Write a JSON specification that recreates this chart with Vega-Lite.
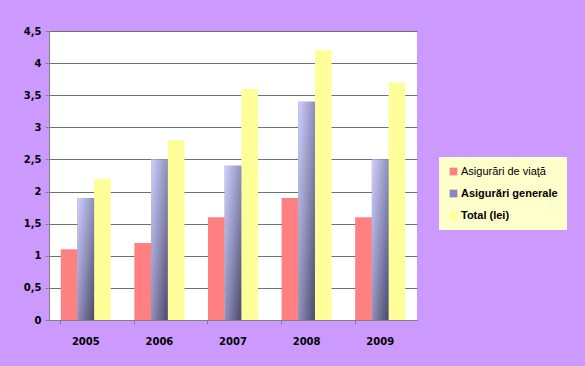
{
  "$schema": "https://vega.github.io/schema/vega-lite/v6.json",
  "width": 368,
  "height": 289,
  "autosize": {"type": "none"},
  "padding": {"left": 49, "top": 31, "right": 168, "bottom": 46},
  "background": "#CC99FF",
  "config": {
    "view": {"fill": "white", "stroke": null},
    "font": "Liberation Sans"
  },
  "data": {
    "values": [
      {"year": "2005", "series": "Asigurări de viaţă", "value": 1.1},
      {"year": "2005", "series": "Asigurări generale", "value": 1.9},
      {"year": "2005", "series": "Total (lei)", "value": 2.2},
      {"year": "2006", "series": "Asigurări de viaţă", "value": 1.2},
      {"year": "2006", "series": "Asigurări generale", "value": 2.5},
      {"year": "2006", "series": "Total (lei)", "value": 2.8},
      {"year": "2007", "series": "Asigurări de viaţă", "value": 1.6},
      {"year": "2007", "series": "Asigurări generale", "value": 2.4},
      {"year": "2007", "series": "Total (lei)", "value": 3.6},
      {"year": "2008", "series": "Asigurări de viaţă", "value": 1.9},
      {"year": "2008", "series": "Asigurări generale", "value": 3.4},
      {"year": "2008", "series": "Total (lei)", "value": 4.2},
      {"year": "2009", "series": "Asigurări de viaţă", "value": 1.6},
      {"year": "2009", "series": "Asigurări generale", "value": 2.5},
      {"year": "2009", "series": "Total (lei)", "value": 3.7}
    ]
  },
  "encoding": {
    "x": {
      "field": "year", "type": "nominal", "title": null,
      "scale": {"paddingInner": 0.32, "paddingOuter": 0.16},
      "axis": {
        "labelAngle": 0, "labelFont": "DejaVu Sans", "labelFontWeight": "bold", "labelFontSize": 10,
        "labelColor": "black", "labelPadding": 12, "bandPosition": 0,
        "domainColor": "#808080", "tickColor": "#808080", "tickSize": 4, "grid": false
      }
    },
    "xOffset": {"field": "series", "type": "nominal", "sort": ["Asigurări de viaţă", "Asigurări generale", "Total (lei)"], "scale": {"paddingInner": 0, "paddingOuter": 0}},
    "y": {
      "field": "value", "type": "quantitative", "title": null,
      "scale": {"domain": [0, 4.5], "nice": false},
      "axis": {
        "values": [0, 0.5, 1, 1.5, 2, 2.5, 3, 3.5, 4, 4.5],
        "labelExpr": "replace(format(datum.value, '.1~f'), '.', ',')",
        "labelFont": "DejaVu Sans", "labelFontWeight": "bold", "labelFontSize": 10, "labelColor": "black",
        "labelPadding": 4, "tickSize": 4, "tickColor": "#808080", "domainColor": "#808080",
        "gridColor": "#6f6f6f", "gridOpacity": 1, "gridWidth": 1
      }
    }
  },
  "layer": [
    {
      "mark": {"type": "bar"},
      "encoding": {
        "color": {
          "field": "series", "type": "nominal",
          "scale": {"domain": ["Asigurări de viaţă", "Asigurări generale", "Total (lei)"], "range": ["#FF8080", "#8888BB", "#FFFF99"]},
          "legend": {
            "title": null, "orient": "none", "legendX": 390, "legendY": 126,
            "fillColor": "#FFFFCC", "padding": 9, "symbolType": "square", "symbolSize": 60,
            "symbolStrokeWidth": 0, "labelFontSize": 11, "labelColor": "black", "rowPadding": 10,
            "labelOffset": 2, "labelLimit": 200,
            "encode": {
              "labels": {"update": {"fontWeight": {"signal": "datum.index === 0 ? 'normal' : 'bold'"}}},
              "legend": {"update": {"width": {"value": 111}}}
            }
          }
        }
      }
    },
    {
      "transform": [{"filter": "datum.series === 'Asigurări generale'"}],
      "mark": {
        "type": "bar",
        "fill": {
          "gradient": "linear", "x1": 0, "y1": 0, "x2": 1, "y2": 1,
          "stops": [{"offset": 0, "color": "#D0D0FF"}, {"offset": 0.5, "color": "#9090BB"}, {"offset": 1, "color": "#4A4A6A"}]
        }
      }
    }
  ]
}
